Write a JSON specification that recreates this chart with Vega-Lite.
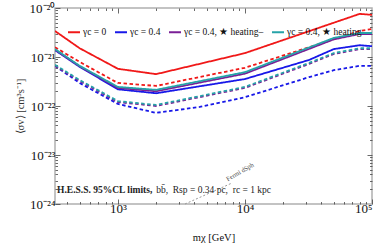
{
  "$schema": "https://vega.github.io/schema/vega-lite/v6.json",
  "width": 317,
  "height": 196,
  "autosize": {"type": "none"},
  "padding": {"left": 55, "top": 8, "right": 10, "bottom": 40},
  "config": {
    "font": "Liberation Serif",
    "view": {"stroke": "#b0b0b0", "strokeWidth": 1.5},
    "axis": {"domain": false, "grid": false, "tickColor": "#444", "tickWidth": 0.8}
  },
  "resolve": {"axis": {"x": "independent", "y": "independent"}},
  "layer": [
    {
      "data": {"values": [
        {"series": "γc = 0", "style": "solid", "m": 320, "sv": 3.39e-21},
        {"series": "γc = 0", "style": "solid", "m": 500, "sv": 1.51e-21},
        {"series": "γc = 0", "style": "solid", "m": 1000, "sv": 5.75e-22},
        {"series": "γc = 0", "style": "solid", "m": 2000, "sv": 4.47e-22},
        {"series": "γc = 0", "style": "solid", "m": 10000, "sv": 1.20e-21},
        {"series": "γc = 0", "style": "solid", "m": 80000, "sv": 7.59e-21},
        {"series": "γc = 0", "style": "solid", "m": 100000, "sv": 7.24e-21},
        {"series": "γc = 0", "style": "dashed", "m": 320, "sv": 1.58e-21},
        {"series": "γc = 0", "style": "dashed", "m": 500, "sv": 7.94e-22},
        {"series": "γc = 0", "style": "dashed", "m": 1000, "sv": 2.95e-22},
        {"series": "γc = 0", "style": "dashed", "m": 2000, "sv": 2.57e-22},
        {"series": "γc = 0", "style": "dashed", "m": 10000, "sv": 6.03e-22},
        {"series": "γc = 0", "style": "dashed", "m": 80000, "sv": 3.39e-21},
        {"series": "γc = 0", "style": "dashed", "m": 100000, "sv": 3.72e-21},
        {"series": "γc = 0.4", "style": "solid", "m": 320, "sv": 1.38e-21},
        {"series": "γc = 0.4", "style": "solid", "m": 500, "sv": 6.31e-22},
        {"series": "γc = 0.4", "style": "solid", "m": 1000, "sv": 2.19e-22},
        {"series": "γc = 0.4", "style": "solid", "m": 2000, "sv": 1.82e-22},
        {"series": "γc = 0.4", "style": "solid", "m": 10000, "sv": 3.55e-22},
        {"series": "γc = 0.4", "style": "solid", "m": 32000, "sv": 8.71e-22},
        {"series": "γc = 0.4", "style": "solid", "m": 50000, "sv": 1.45e-21},
        {"series": "γc = 0.4", "style": "solid", "m": 80000, "sv": 1.74e-21},
        {"series": "γc = 0.4", "style": "solid", "m": 100000, "sv": 1.66e-21},
        {"series": "γc = 0.4", "style": "dashed", "m": 320, "sv": 6.61e-22},
        {"series": "γc = 0.4", "style": "dashed", "m": 500, "sv": 2.95e-22},
        {"series": "γc = 0.4", "style": "dashed", "m": 1000, "sv": 1.10e-22},
        {"series": "γc = 0.4", "style": "dashed", "m": 2000, "sv": 7.24e-23},
        {"series": "γc = 0.4", "style": "dashed", "m": 4400, "sv": 9.55e-23},
        {"series": "γc = 0.4", "style": "dashed", "m": 10000, "sv": 1.51e-22},
        {"series": "γc = 0.4", "style": "dashed", "m": 32000, "sv": 3.89e-22},
        {"series": "γc = 0.4", "style": "dashed", "m": 50000, "sv": 5.37e-22},
        {"series": "γc = 0.4", "style": "dashed", "m": 80000, "sv": 6.61e-22},
        {"series": "γc = 0.4", "style": "dashed", "m": 100000, "sv": 6.61e-22},
        {"series": "γc = 0.4, ★ heating–", "style": "solid", "m": 320, "sv": 1.41e-21},
        {"series": "γc = 0.4, ★ heating–", "style": "solid", "m": 500, "sv": 6.46e-22},
        {"series": "γc = 0.4, ★ heating–", "style": "solid", "m": 1000, "sv": 2.34e-22},
        {"series": "γc = 0.4, ★ heating–", "style": "solid", "m": 2000, "sv": 2.00e-22},
        {"series": "γc = 0.4, ★ heating–", "style": "solid", "m": 10000, "sv": 4.57e-22},
        {"series": "γc = 0.4, ★ heating–", "style": "solid", "m": 50000, "sv": 2.29e-21},
        {"series": "γc = 0.4, ★ heating–", "style": "solid", "m": 80000, "sv": 2.95e-21},
        {"series": "γc = 0.4, ★ heating–", "style": "solid", "m": 100000, "sv": 2.95e-21},
        {"series": "γc = 0.4, ★ heating–", "style": "dashed", "m": 320, "sv": 6.61e-22},
        {"series": "γc = 0.4, ★ heating–", "style": "dashed", "m": 500, "sv": 3.24e-22},
        {"series": "γc = 0.4, ★ heating–", "style": "dashed", "m": 1000, "sv": 1.20e-22},
        {"series": "γc = 0.4, ★ heating–", "style": "dashed", "m": 2000, "sv": 1.00e-22},
        {"series": "γc = 0.4, ★ heating–", "style": "dashed", "m": 10000, "sv": 2.34e-22},
        {"series": "γc = 0.4, ★ heating–", "style": "dashed", "m": 32000, "sv": 7.24e-22},
        {"series": "γc = 0.4, ★ heating–", "style": "dashed", "m": 50000, "sv": 1.15e-21},
        {"series": "γc = 0.4, ★ heating–", "style": "dashed", "m": 80000, "sv": 1.45e-21},
        {"series": "γc = 0.4, ★ heating–", "style": "dashed", "m": 100000, "sv": 1.45e-21},
        {"series": "γc = 0.4, ★ heating", "style": "solid", "m": 320, "sv": 1.45e-21},
        {"series": "γc = 0.4, ★ heating", "style": "solid", "m": 500, "sv": 6.61e-22},
        {"series": "γc = 0.4, ★ heating", "style": "solid", "m": 1000, "sv": 2.45e-22},
        {"series": "γc = 0.4, ★ heating", "style": "solid", "m": 2000, "sv": 2.14e-22},
        {"series": "γc = 0.4, ★ heating", "style": "solid", "m": 10000, "sv": 4.90e-22},
        {"series": "γc = 0.4, ★ heating", "style": "solid", "m": 50000, "sv": 2.45e-21},
        {"series": "γc = 0.4, ★ heating", "style": "solid", "m": 80000, "sv": 3.09e-21},
        {"series": "γc = 0.4, ★ heating", "style": "solid", "m": 100000, "sv": 3.09e-21},
        {"series": "γc = 0.4, ★ heating", "style": "dashed", "m": 320, "sv": 6.92e-22},
        {"series": "γc = 0.4, ★ heating", "style": "dashed", "m": 500, "sv": 3.39e-22},
        {"series": "γc = 0.4, ★ heating", "style": "dashed", "m": 1000, "sv": 1.26e-22},
        {"series": "γc = 0.4, ★ heating", "style": "dashed", "m": 2000, "sv": 1.05e-22},
        {"series": "γc = 0.4, ★ heating", "style": "dashed", "m": 10000, "sv": 2.45e-22},
        {"series": "γc = 0.4, ★ heating", "style": "dashed", "m": 32000, "sv": 7.59e-22},
        {"series": "γc = 0.4, ★ heating", "style": "dashed", "m": 50000, "sv": 1.20e-21},
        {"series": "γc = 0.4, ★ heating", "style": "dashed", "m": 80000, "sv": 1.51e-21},
        {"series": "γc = 0.4, ★ heating", "style": "dashed", "m": 100000, "sv": 1.51e-21}
      ]},
      "mark": {"type": "line", "strokeWidth": 1.8, "clip": true},
      "encoding": {
        "x": {"field": "m", "type": "quantitative",
          "scale": {"type": "log", "domain": [320, 100000], "nice": false},
          "axis": {"orient": "bottom", "values": [1000, 10000, 100000],
            "labelExpr": "datum.value < 5000 ? '10³' : datum.value < 50000 ? '10⁴' : '10⁵'",
            "tickSize": -5, "labelFontSize": 13, "labelPadding": 3, "labelColor": "#111",
            "title": "mχ [GeV]", "titleFontSize": 10.5, "titleFontWeight": "normal", "titlePadding": 17, "titleColor": "#111"}},
        "y": {"field": "sv", "type": "quantitative",
          "scale": {"type": "log", "domain": [1e-24, 1e-20], "nice": false},
          "axis": {"orient": "left", "values": [1e-24, 1e-23, 1e-22, 1e-21, 1e-20],
            "labelExpr": "datum.value < 5e-24 ? '10⁻²⁴' : datum.value < 5e-23 ? '10⁻²³' : datum.value < 5e-22 ? '10⁻²²' : datum.value < 5e-21 ? '10⁻²¹' : '10⁻²⁰'",
            "tickSize": -5, "labelFontSize": 13, "labelPadding": 5, "labelColor": "#111",
            "title": "⟨σv⟩ [cm³s⁻¹]", "titleFontSize": 10.5, "titleFontWeight": "normal", "titlePadding": 4, "titleColor": "#333"}},
        "color": {"field": "series", "type": "nominal",
          "scale": {"domain": ["γc = 0", "γc = 0.4", "γc = 0.4, ★ heating–", "γc = 0.4, ★ heating"],
            "range": ["#f01818", "#1818e8", "#7a1f96", "#26a3a8"]},
          "legend": {"orient": "none", "legendX": 12, "legendY": 17, "direction": "horizontal", "columns": 4,
            "title": null, "symbolType": "stroke", "symbolSize": 144, "symbolStrokeWidth": 2,
            "labelFontSize": 9.5, "labelColor": "#111", "columnPadding": 4, "labelOffset": 2, "padding": 0}},
        "strokeDash": {"field": "style", "type": "nominal",
          "scale": {"domain": ["solid", "dashed"], "range": [[1, 0], [3.5, 2.5]]}, "legend": null}
      }
    },
    {
      "data": {"values": [{"m": 3375, "sv": 1e-24}, {"m": 7910, "sv": 2.68e-24}]},
      "mark": {"type": "line", "color": "#999999", "strokeWidth": 1, "strokeDash": [2, 2]},
      "encoding": {
        "x": {"field": "m", "type": "quantitative",
          "scale": {"type": "log", "domain": [320, 100000], "nice": false},
          "axis": {"orient": "bottom", "values": [400, 500, 600, 700, 800, 900, 2000, 3000, 4000, 5000, 6000, 7000, 8000, 9000, 20000, 30000, 40000, 50000, 60000, 70000, 80000, 90000],
            "labels": false, "tickSize": -2.5, "title": null}},
        "y": {"field": "sv", "type": "quantitative",
          "scale": {"type": "log", "domain": [1e-24, 1e-20], "nice": false},
          "axis": {"orient": "left", "values": [2e-24, 3e-24, 4e-24, 5e-24, 6e-24, 7e-24, 8e-24, 9e-24, 2e-23, 3e-23, 4e-23, 5e-23, 6e-23, 7e-23, 8e-23, 9e-23, 2e-22, 3e-22, 4e-22, 5e-22, 6e-22, 7e-22, 8e-22, 9e-22, 2e-21, 3e-21, 4e-21, 5e-21, 6e-21, 7e-21, 8e-21, 9e-21],
            "labels": false, "tickSize": -2.5, "title": null}}
      }
    },
    {
      "data": {"values": [{"m": 332, "sv": 1.93e-24, "t": "H.E.S.S. 95%CL limits,"}]},
      "mark": {"type": "text", "align": "left", "baseline": "middle", "fontSize": 9.5, "fontWeight": "bold", "color": "#222"},
      "encoding": {
        "x": {"field": "m", "type": "quantitative",
          "scale": {"type": "log", "domain": [320, 100000], "nice": false},
          "axis": {"orient": "top", "values": [1000, 10000], "labels": false, "tickSize": -5, "title": null}},
        "y": {"field": "sv", "type": "quantitative",
          "scale": {"type": "log", "domain": [1e-24, 1e-20], "nice": false},
          "axis": {"orient": "right", "values": [1e-23, 1e-22, 1e-21], "labels": false, "tickSize": -5, "title": null}},
        "text": {"field": "t"}
      }
    },
    {
      "data": {"values": [{"m": 2000, "sv": 1.93e-24, "t": "bb̄,\u00a0 Rsp = 0.34\u00a0pc,\u00a0 rc = 1\u00a0kpc"}]},
      "mark": {"type": "text", "align": "left", "baseline": "middle", "fontSize": 9.5, "color": "#222"},
      "encoding": {
        "x": {"field": "m", "type": "quantitative",
          "scale": {"type": "log", "domain": [320, 100000], "nice": false},
          "axis": {"orient": "top", "values": [400, 500, 600, 700, 800, 900, 2000, 3000, 4000, 5000, 6000, 7000, 8000, 9000, 20000, 30000, 40000, 50000, 60000, 70000, 80000, 90000],
            "labels": false, "tickSize": -2.5, "title": null}},
        "y": {"field": "sv", "type": "quantitative",
          "scale": {"type": "log", "domain": [1e-24, 1e-20], "nice": false},
          "axis": {"orient": "right", "values": [2e-24, 3e-24, 4e-24, 5e-24, 6e-24, 7e-24, 8e-24, 9e-24, 2e-23, 3e-23, 4e-23, 5e-23, 6e-23, 7e-23, 8e-23, 9e-23, 2e-22, 3e-22, 4e-22, 5e-22, 6e-22, 7e-22, 8e-22, 9e-22, 2e-21, 3e-21, 4e-21, 5e-21, 6e-21, 7e-21, 8e-21, 9e-21],
            "labels": false, "tickSize": -2.5, "title": null}},
        "text": {"field": "t"}
      }
    },
    {
      "data": {"values": [{"m": 9150, "sv": 4.5e-24, "t": "Fermi dSph"}]},
      "mark": {"type": "text", "align": "center", "baseline": "middle", "fontSize": 6.5, "angle": -30, "color": "#444"},
      "encoding": {
        "x": {"field": "m", "type": "quantitative", "scale": {"type": "log", "domain": [320, 100000], "nice": false}, "axis": null},
        "y": {"field": "sv", "type": "quantitative", "scale": {"type": "log", "domain": [1e-24, 1e-20], "nice": false}, "axis": null},
        "text": {"field": "t"}
      }
    }
  ]
}
